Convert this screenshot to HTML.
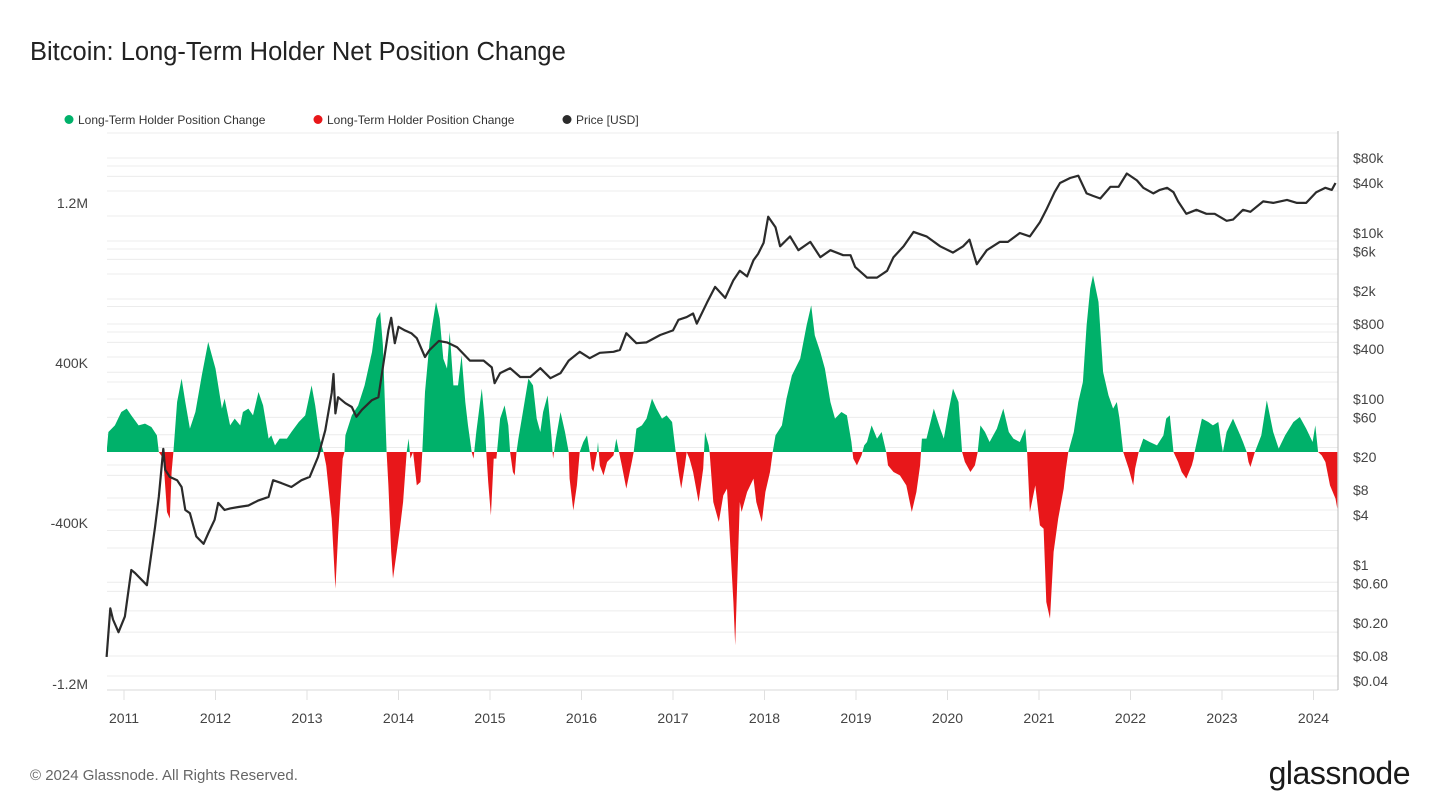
<!DOCTYPE html>
<html><head><meta charset="utf-8"><style>
html,body{margin:0;padding:0;background:#fff;}
svg{display:block;font-family:"Liberation Sans",sans-serif;}
</style></head><body>
<svg id="chart" width="1440" height="810" viewBox="0 0 1440 810" xmlns="http://www.w3.org/2000/svg">
<text x="30" y="60" font-size="25.5" fill="#222">Bitcoin: Long-Term Holder Net Position Change</text>
<g font-size="12" fill="#333">
<g><circle cx="69" cy="119.5" r="4.5" fill="#00b16a"/><text x="78" y="124">Long-Term Holder Position Change</text></g>
<g><circle cx="318" cy="119.5" r="4.5" fill="#e8171a"/><text x="327" y="124">Long-Term Holder Position Change</text></g>
<g><circle cx="567" cy="119.5" r="4.5" fill="#2b2b2b"/><text x="576" y="124">Price [USD]</text></g>
</g>
<g id="grid"></g>
<g id="bars"></g>
<g id="price"></g>
<g id="axes"></g>
<text x="30" y="780" font-size="15" fill="#666">© 2024 Glassnode. All Rights Reserved.</text>
<text x="1410" y="784" font-size="32" fill="#1a1a1a" text-anchor="end" letter-spacing="-0.5">glassnode</text>
</svg>
<script>
// Position change: dates (fractional year) and values (K BTC)
const chgDates = [2010.81,2010.83,2010.90,2010.97,2011.03,2011.08,2011.16,2011.23,2011.30,2011.36,2011.38,2011.43,2011.47,2011.50,2011.52,2011.54,2011.58,2011.63,2011.67,2011.72,2011.78,2011.85,2011.92,2012.00,2012.07,2012.10,2012.16,2012.21,2012.27,2012.30,2012.36,2012.41,2012.47,2012.52,2012.58,2012.61,2012.65,2012.70,2012.78,2012.83,2012.91,2012.98,2013.05,2013.09,2013.14,2013.18,2013.21,2013.27,2013.31,2013.34,2013.39,2013.41,2013.42,2013.49,2013.56,2013.63,2013.71,2013.76,2013.80,2013.83,2013.87,2013.89,2013.92,2013.94,2013.98,2014.02,2014.05,2014.09,2014.11,2014.13,2014.16,2014.20,2014.24,2014.26,2014.29,2014.34,2014.41,2014.45,2014.49,2014.53,2014.56,2014.60,2014.65,2014.69,2014.73,2014.76,2014.80,2014.82,2014.85,2014.91,2014.94,2014.96,2014.98,2015.01,2015.04,2015.07,2015.11,2015.16,2015.20,2015.22,2015.25,2015.27,2015.29,2015.31,2015.36,2015.42,2015.47,2015.51,2015.55,2015.58,2015.63,2015.67,2015.69,2015.72,2015.77,2015.82,2015.86,2015.87,2015.91,2015.95,2015.98,2016.02,2016.06,2016.09,2016.11,2016.13,2016.17,2016.18,2016.20,2016.24,2016.28,2016.35,2016.38,2016.41,2016.44,2016.49,2016.55,2016.57,2016.60,2016.66,2016.71,2016.77,2016.82,2016.88,2016.93,2016.99,2017.03,2017.06,2017.09,2017.13,2017.15,2017.18,2017.22,2017.28,2017.33,2017.35,2017.39,2017.40,2017.44,2017.50,2017.55,2017.59,2017.62,2017.66,2017.68,2017.70,2017.73,2017.75,2017.81,2017.88,2017.91,2017.97,2018.01,2018.06,2018.09,2018.12,2018.19,2018.24,2018.30,2018.39,2018.46,2018.51,2018.55,2018.61,2018.66,2018.72,2018.77,2018.84,2018.90,2018.95,2018.97,2019.01,2019.06,2019.09,2019.12,2019.17,2019.23,2019.28,2019.33,2019.35,2019.41,2019.48,2019.55,2019.61,2019.66,2019.70,2019.71,2019.72,2019.77,2019.85,2019.92,2019.96,2020.01,2020.06,2020.12,2020.16,2020.19,2020.25,2020.30,2020.33,2020.36,2020.41,2020.46,2020.54,2020.61,2020.67,2020.72,2020.79,2020.85,2020.87,2020.90,2020.96,2021.01,2021.05,2021.08,2021.12,2021.16,2021.21,2021.27,2021.29,2021.32,2021.38,2021.43,2021.48,2021.52,2021.56,2021.59,2021.65,2021.70,2021.76,2021.81,2021.85,2021.88,2021.92,2021.98,2022.03,2022.05,2022.09,2022.14,2022.21,2022.29,2022.36,2022.39,2022.43,2022.47,2022.52,2022.56,2022.61,2022.67,2022.69,2022.70,2022.78,2022.85,2022.90,2022.96,2022.99,2023.01,2023.05,2023.12,2023.20,2023.23,2023.27,2023.29,2023.31,2023.36,2023.43,2023.49,2023.56,2023.62,2023.69,2023.78,2023.85,2023.92,2023.99,2024.02,2024.05,2024.09,2024.13,2024.18,2024.24,2024.26];
const chgValues = [0,100,133,200,217,183,133,142,125,83,0,-33,-300,-333,-100,0,250,367,250,117,200,383,550,417,217,267,133,167,133,200,217,183,300,233,67,83,33,67,67,100,150,183,333,233,67,0,-67,-333,-683,-417,-33,0,83,183,233,333,500,667,700,533,0,-167,-500,-633,-500,-367,-250,0,67,-33,0,-167,-150,0,300,550,750,667,467,417,600,333,333,483,250,133,0,-33,100,317,167,0,-150,-317,-33,-33,167,233,133,0,-100,-117,0,67,200,367,333,167,100,200,283,83,-33,67,200,100,0,-133,-292,-167,0,50,83,0,-83,-100,0,50,-67,-117,-50,-17,67,0,-67,-183,-50,0,117,133,167,267,217,167,183,150,0,-100,-183,-67,0,-33,-100,-250,-83,100,33,0,-250,-350,-217,-183,-417,-750,-967,-667,-250,-300,-200,-133,-250,-350,-200,-100,0,83,133,267,383,467,633,733,583,500,417,250,167,200,183,50,-33,-67,-17,33,50,133,67,100,0,-67,-100,-117,-167,-300,-200,-67,0,67,67,217,117,67,200,317,250,0,-50,-100,-67,0,133,100,50,117,217,100,67,50,117,0,-300,-167,-367,-383,-750,-833,-500,-333,-183,-100,0,100,250,350,633,817,883,750,400,283,217,250,167,0,-83,-167,-83,0,67,50,33,83,167,183,0,-50,-100,-133,-67,-33,0,167,150,133,150,50,0,100,167,83,50,0,-50,-75,0,83,258,100,17,83,150,175,117,50,133,0,-17,-50,-167,-233,-283,-250];
// Price (USD)
const priceDates = [2010.81,2010.85,2010.88,2010.94,2011.01,2011.08,2011.12,2011.25,2011.30,2011.34,2011.38,2011.43,2011.45,2011.50,2011.58,2011.63,2011.67,2011.72,2011.79,2011.87,2011.92,2011.99,2012.03,2012.10,2012.16,2012.25,2012.36,2012.47,2012.58,2012.63,2012.72,2012.83,2012.94,2013.03,2013.12,2013.20,2013.27,2013.29,2013.31,2013.34,2013.42,2013.49,2013.54,2013.60,2013.71,2013.78,2013.83,2013.89,2013.92,2013.96,2014.00,2014.07,2014.14,2014.20,2014.29,2014.34,2014.44,2014.53,2014.64,2014.78,2014.93,2015.02,2015.05,2015.11,2015.22,2015.33,2015.44,2015.55,2015.66,2015.77,2015.86,2015.98,2016.09,2016.20,2016.35,2016.42,2016.49,2016.60,2016.71,2016.86,2017.00,2017.06,2017.15,2017.22,2017.26,2017.37,2017.46,2017.57,2017.66,2017.73,2017.81,2017.88,2017.93,2017.99,2018.04,2018.12,2018.17,2018.28,2018.37,2018.50,2018.61,2018.72,2018.86,2018.94,2018.99,2019.12,2019.23,2019.34,2019.41,2019.52,2019.63,2019.77,2019.92,2020.06,2020.17,2020.24,2020.32,2020.43,2020.57,2020.66,2020.79,2020.90,2021.01,2021.08,2021.17,2021.23,2021.34,2021.43,2021.52,2021.59,2021.67,2021.78,2021.87,2021.96,2022.07,2022.14,2022.25,2022.32,2022.40,2022.47,2022.52,2022.61,2022.72,2022.83,2022.92,2023.05,2023.12,2023.23,2023.31,2023.45,2023.56,2023.71,2023.82,2023.92,2024.03,2024.13,2024.20,2024.24];
const priceValues = [0.078,0.30,0.22,0.155,0.24,0.87,0.8,0.57,1.39,2.9,6.6,25,14,11.5,10.5,8.7,4.6,4.2,2.2,1.8,2.4,3.5,5.6,4.6,4.8,5.0,5.2,6.0,6.6,10.5,9.7,8.7,10.5,11.5,20,42,118,200,67,105,89,80,61,74,97,105,242,670,950,470,740,670,620,540,320,390,500,480,420,290,290,240,155,205,235,184,184,235,178,205,290,370,310,360,370,390,620,470,480,590,670,900,970,1070,810,1440,2240,1650,2700,3500,3000,4700,5600,7600,15700,11700,6900,9100,6200,7800,5100,6200,5400,5400,3900,2900,2900,3500,5100,6900,10300,9100,6900,5800,6900,8300,4200,6200,7800,7800,10000,9100,13500,19000,31000,40000,46000,49000,30000,28000,26000,36000,36000,52000,43000,35000,30000,33000,35000,31000,24000,17000,19000,17000,17000,14000,14500,19000,18000,24000,23000,25000,23000,23000,31000,35000,33000,40000,55000];
const leftTickLabels = ["1.2M","400K","-400K","-1.2M"];
const leftTickValues = [1245,445,-355,-1160];
const rightTickLabels = ["$80k","$40k","$10k","$6k","$2k","$800","$400","$100","$60","$20","$8","$4","$1","$0.60","$0.20","$0.08","$0.04"];
const rightTickValues = [80000,40000,10000,6000,2000,800,400,100,60,20,8,4,1,0.6,0.2,0.08,0.04];
const gridPrices = [160000,80000,64000,48000,32000,16000,8000,6400,4800,3200,1600,1300,800,640,480,320,210,160,100,60,37,26,16,12,6.4,4.6,2.6,1.6,0.62,0.48,0.28,0.155,0.08,0.046];
const yearLabels = ["2011","2012","2013","2014","2015","2016","2017","2018","2019","2020","2021","2022","2023","2024"];

const NS="http://www.w3.org/2000/svg";
const X0=107,X1=1338,YT=131,YB=690,BASE=452;
const xOf=t=>124+(t-2011)*91.5;
const yChg=v=>BASE-v*0.2;
const yPrice=p=>515-83*Math.log10(p/4);
function mk(tag,attrs,parent){const e=document.createElementNS(NS,tag);for(const k in attrs)e.setAttribute(k,attrs[k]);parent.appendChild(e);return e;}

const grid=document.getElementById('grid');
gridPrices.forEach(p=>{const y=yPrice(p);
 const l=mk('line',{x1:X0,x2:X1,y1:y,y2:y,stroke:'#ececec','stroke-width':1},grid);
 
 });

const svg=document.getElementById('chart');
const defs=mk('defs',{},svg);
const cpA=mk('clipPath',{id:'above'},defs);mk('rect',{x:X0,y:YT,width:X1-X0,height:BASE-YT},cpA);
const cpB=mk('clipPath',{id:'below'},defs);mk('rect',{x:X0,y:BASE,width:X1-X0,height:YB-BASE},cpB);
let d='M'+xOf(chgDates[0])+','+BASE;
chgDates.forEach((t,i)=>{d+=' L'+xOf(t).toFixed(1)+','+yChg(chgValues[i]).toFixed(1);});
d+=' L'+xOf(chgDates[chgDates.length-1])+','+BASE+' Z';
const bars=document.getElementById('bars');
const pg=mk('path',{d:d,fill:'#00b16a','clip-path':'url(#above)'},bars);


const pr=mk('path',{d:d,fill:'#e8171a','clip-path':'url(#below)'},bars);



let pd='';
priceDates.forEach((t,i)=>{pd+=(i?' L':'M')+xOf(t).toFixed(1)+','+yPrice(priceValues[i]).toFixed(1);});
const pl=mk('path',{d:pd,fill:'none',stroke:'#2b2b2b','stroke-width':2.2,'stroke-linejoin':'round'},document.getElementById('price'));



const axes=document.getElementById('axes');
const ax=mk('line',{x1:X0,x2:X1,y1:YB,y2:YB,stroke:'#d8d8d8','stroke-width':1},axes);


const ra=mk('line',{x1:X1,x2:X1,y1:YT,y2:YB,stroke:'#bbb','stroke-width':1},axes);


yearLabels.forEach(s=>{const x=xOf(+s);
 const tk=mk('line',{x1:x,x2:x,y1:YB,y2:YB+10,stroke:'#e0e0e0'},axes);
 
 
 const tx=mk('text',{x:x,y:723,'font-size':14,fill:'#444','text-anchor':'middle'},axes);tx.textContent=s;
 
 });
leftTickLabels.forEach((s,i)=>{const tx=mk('text',{x:88,y:yChg(leftTickValues[i])+5,'font-size':14,fill:'#444','text-anchor':'end'},axes);tx.textContent=s;
 
 });
rightTickLabels.forEach((s,i)=>{const tx=mk('text',{x:1353,y:yPrice(rightTickValues[i])+5,'font-size':14,fill:'#444'},axes);tx.textContent=s;
 
 });
</script>
</body></html>
